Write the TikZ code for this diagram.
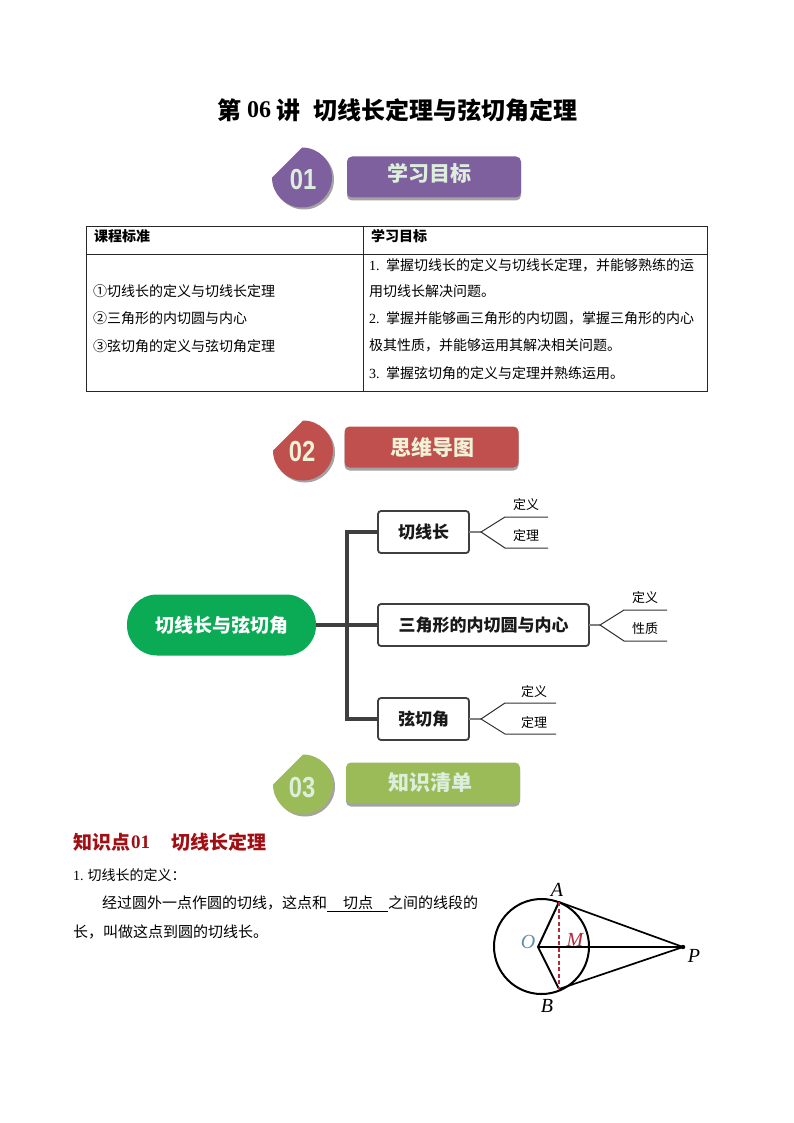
\documentclass[tikz,border=0pt]{standalone}
\usepackage{fontspec}
\setmainfont{Liberation Serif}
\newfontfamily\cjk{Noto Sans CJK SC}
\newfontfamily\digit{Liberation Sans}
\definecolor{purp}{HTML}{7F609F}
\definecolor{redb}{HTML}{C0504D}
\definecolor{greenb}{HTML}{9BBB59}
\definecolor{shadowg}{HTML}{A3A3A3}
\definecolor{mintt}{HTML}{DCEEDC}
\definecolor{creamt}{HTML}{F0F2D8}
\definecolor{rootg}{HTML}{0BAA55}
\definecolor{dark}{HTML}{3F3F3F}
\definecolor{secred}{HTML}{A00F14}
\definecolor{dashred}{HTML}{B02A3A}
\definecolor{oblue}{HTML}{5F90B0}
\newcommand{\fs}[1]{\fontsize{#1}{#1}\selectfont}
\tikzset{
 txt/.style={inner sep=0pt,outer sep=0pt,anchor=west,font=\cjk\fs{14}},
 txtm/.style={inner sep=0pt,outer sep=0pt,anchor=west,font=\cjk\fs{15}},
 hdr/.style={inner sep=0pt,outer sep=0pt,anchor=west,font=\cjk\bfseries\fs{14}},
 gridline/.style={line width=0.8pt,black!85},
 branch/.style={rectangle,draw=dark,line width=1.8pt,rounded corners=3pt,fill=white,font=\cjk\bfseries\fs{17},inner sep=0pt,outer sep=0pt,text=black!90},
 rootnode/.style={rectangle,fill=rootg,rounded corners=30pt,minimum width=189pt,minimum height=61pt,font=\cjk\bfseries\fs{19},text=white,inner sep=0pt,outer sep=0pt},
 spine/.style={line width=3.4pt,dark},
 twig/.style={line width=1pt,black!80},
 stub/.style={line width=1.1pt,black!50},
 leaf/.style={inner sep=0pt,font=\cjk\fs{13}},
 banner/.style={rectangle,rounded corners=5pt,inner sep=0pt,minimum width=174pt,minimum height=41pt},
 bannertext/.style={inner sep=0pt,font=\cjk\bfseries\fs{21}},
 badgenum/.style={inner sep=0pt,font=\digit\bfseries\fs{29}},
 geo/.style={line width=2pt,black},
 pt/.style={inner sep=0pt,font=\itshape\fs{20}},
}
\begin{document}
\begin{tikzpicture}[x=1pt,y=-1pt]
\useasboundingbox (0,0) rectangle (794,1123);
\fill[white] (0,0) rectangle (794,1123);
% title
\node[inner sep=0pt,anchor=west,font=\cjk\bfseries\fs{24}] (t1) at (217,110) {第};
\node[inner sep=0pt,anchor=west,font=\bfseries\fs{24}] (t2) at (247,110) {06};
\node[inner sep=0pt,anchor=west,font=\cjk\bfseries\fs{24}] (t3) at (276,110) {讲};
\node[inner sep=0pt,anchor=west,font=\cjk\bfseries\fs{24}] (t4) at (313,110) {切线长定理与弦切角定理};
% banner 01
\fill[shadowg] (304,149.5) arc[start angle=90,end angle=-180,radius=30pt] -- cycle;
\fill[purp] (302,147.5) arc[start angle=90,end angle=-180,radius=30pt] -- cycle;
\node[badgenum,text=mintt] (n1) at (303,180) {\scalebox{.82}[1]{01}};
\node[banner,fill=shadowg] (b1s) at (434,180) {};
\node[banner,fill=purp] (b1) at (434,177) {};
\node[bannertext,text=mintt] (b1t) at (429,173) {学习目标};
% table
\draw[gridline] (86,226) rectangle (707,391);
\draw[gridline] (86,254) -- (707,254);
\draw[gridline] (363,226) -- (363,391);
\node[hdr] (h1) at (94,236) {课程标准};
\node[hdr] (h2) at (371,236) {学习目标};
\node[txt] (l1) at (93,291) {①切线长的定义与切线长定理};
\node[txt] (l2) at (93,318) {②三角形的内切圆与内心};
\node[txt] (l3) at (93,346) {③弦切角的定义与弦切角定理};
\node[txt] (r1) at (369,265) {{\rmfamily 1.}\hspace{6.5pt}掌握切线长的定义与切线长定理，并能够熟练的运};
\node[txt] (r2) at (369,291) {用切线长解决问题。};
\node[txt] (r3) at (369,318) {{\rmfamily 2.}\hspace{6.5pt}掌握并能够画三角形的内切圆，掌握三角形的内心};
\node[txt] (r4) at (369,345) {极其性质，并能够运用其解决相关问题。};
\node[txt] (r5) at (369,373) {{\rmfamily 3.}\hspace{6.5pt}掌握弦切角的定义与定理并熟练运用。};
% banner 02
\fill[shadowg] (305,422.5) arc[start angle=90,end angle=-180,radius=30pt] -- cycle;
\fill[redb] (303,420.5) arc[start angle=90,end angle=-180,radius=30pt] -- cycle;
\node[badgenum,text=creamt] (n2) at (302,452) {\scalebox{.82}[1]{02}};
\node[banner,fill=shadowg] (b2s) at (431.5,450) {};
\node[banner,fill=redb] (b2) at (431.5,447) {};
\node[bannertext,text=creamt] (b2t) at (432,447) {思维导图};
% mind map
\node[branch,minimum width=91pt,minimum height=42pt] (c1) at (423.5,532) {切线长};
\node[branch,minimum width=211pt,minimum height=42pt] (c2) at (483.5,625) {三角形的内切圆与内心};
\node[branch,minimum width=91pt,minimum height=42pt] (c3) at (423.5,719) {弦切角};
\node[rootnode] (root) at (221.5,625) {切线长与弦切角};
\coordinate (sp) at (347,625);
\draw[spine] (root.east) -- (c2.west);
\draw[spine,line join=miter] (c1.west) -| (sp) |- (c3.west);
% leaves
\coordinate (j1) at (481,532); \coordinate (j1a) at (505,517); \coordinate (e1a) at (548,517); \coordinate (j1b) at (505,548); \coordinate (e1b) at (548,548);
\coordinate (j2) at (600,625); \coordinate (j2a) at (624,610); \coordinate (e2a) at (667,610); \coordinate (j2b) at (624,641); \coordinate (e2b) at (667,641);
\coordinate (j3) at (481,719); \coordinate (j3a) at (505,703); \coordinate (e3a) at (556,703); \coordinate (j3b) at (505,734); \coordinate (e3b) at (556,734);
\draw[stub] (c1.east) -- (j1);
\draw[stub] (c2.east) -- (j2);
\draw[stub] (c3.east) -- (j3);
\draw[twig] (e1a) -- (j1a) -- (j1) -- (j1b) -- (e1b);
\draw[twig] (e2a) -- (j2a) -- (j2) -- (j2b) -- (e2b);
\draw[twig] (e3a) -- (j3a) -- (j3) -- (j3b) -- (e3b);
\node[leaf] (a1) at (526,505) {定义};
\node[leaf] (a2) at (526,536) {定理};
\node[leaf] (a3) at (645,598) {定义};
\node[leaf] (a4) at (645,629) {性质};
\node[leaf] (a5) at (534,692) {定义};
\node[leaf] (a6) at (534,723) {定理};
% banner 03
\fill[shadowg] (305,756.5) arc[start angle=90,end angle=-180,radius=30pt] -- cycle;
\fill[greenb] (303,754.5) arc[start angle=90,end angle=-180,radius=30pt] -- cycle;
\node[badgenum,text=mintt] (n3) at (302,788) {\scalebox{.82}[1]{03}};
\node[banner,fill=shadowg] (b3s) at (433,786) {};
\node[banner,fill=greenb] (b3) at (433,783) {};
\node[bannertext,text=mintt] (b3t) at (430,783) {知识清单};
% section
\node[inner sep=0pt,anchor=west,font=\cjk\bfseries\fs{19},text=secred] (s1) at (73,842) {知识点};
\node[inner sep=0pt,anchor=west,font=\bfseries\fs{19},text=secred] (s2) at (131,842) {01};
\node[inner sep=0pt,anchor=west,font=\cjk\bfseries\fs{19},text=secred] (s3) at (171,842) {切线长定理};
\node[txt] (p1) at (73,875) {{\rmfamily 1.}\hspace{4pt}切线长的定义：};
\node[txtm] (p2) at (102,903) {经过圆外一点作圆的切线，这点和};
\node[txtm] (p3) at (343,903) {切点};
\node[txtm] (p4) at (388,903) {之间的线段的};
\node[txtm] (p5) at (73,932) {长，叫做这点到圆的切线长。};
\coordinate (ua) at (327,911.5); \coordinate (ub) at (388,911.5);
\draw[line width=0.7pt] (ua) -- (ub);
% figure
\coordinate (cc) at (541.5,946.5);
\coordinate (O) at (538,947);
\coordinate (A) at (559,902);
\coordinate (B) at (559,989);
\coordinate (P) at (683,947);
\draw[geo] (cc) circle[radius=47.5pt];
\draw[geo] (A) -- (O) -- (B);
\draw[geo,line width=1.7pt] (A) -- (P) -- (B);
\draw[line width=1.5pt] (O) -- (P);
\draw[dashred,line width=1.6pt,dash pattern=on 4pt off 2.5pt] (A) -- (B);
\fill (P) circle[radius=2.2pt];
\node[pt] (lA) at (557,890) {A};
\node[pt] (lB) at (547,1006) {B};
\node[pt,text=oblue] (lO) at (528,942) {O};
\node[pt,text=dashred] (lM) at (575,940) {M};
\node[pt] (lP) at (694,956) {P};
\end{tikzpicture}
\end{document}
